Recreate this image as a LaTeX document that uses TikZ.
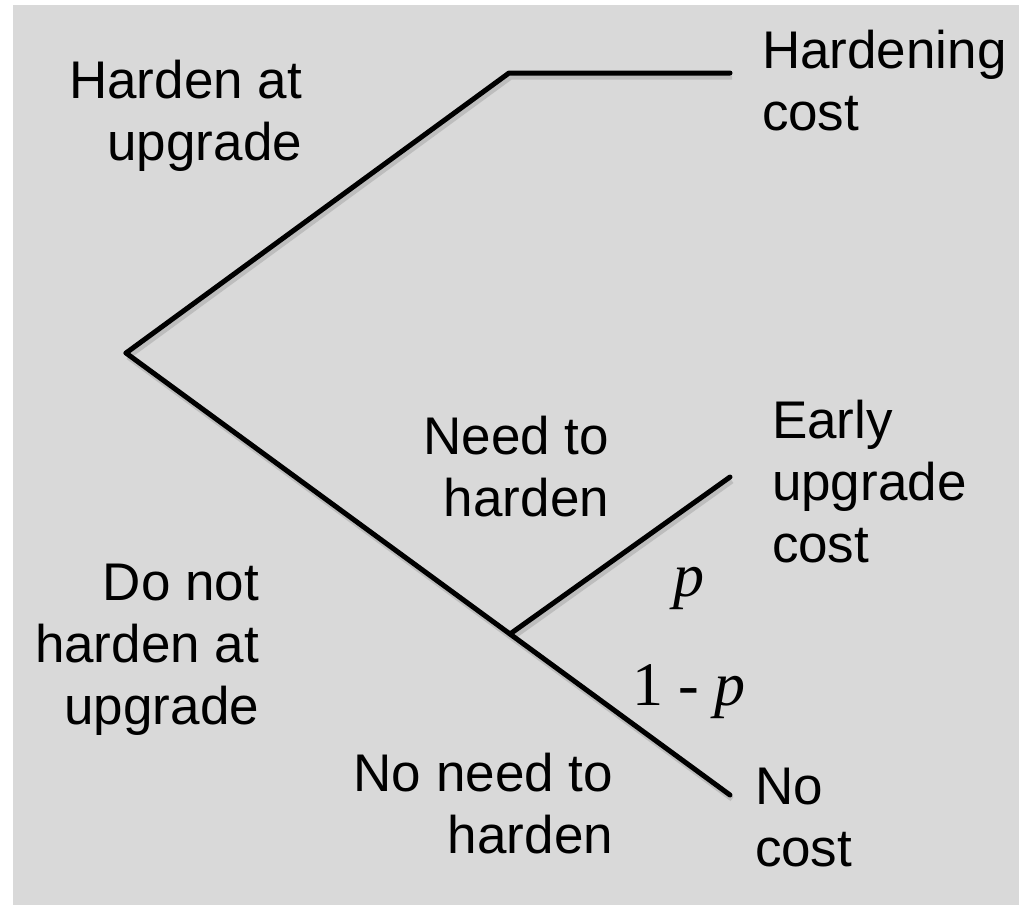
\documentclass[tikz,border=0pt]{standalone}
\usepackage{fontspec}
\setmainfont{Liberation Sans}
\newfontfamily\mathserif{Liberation Serif}
\definecolor{bggray}{HTML}{D9D9D9}
\definecolor{shadowgray}{HTML}{BDBDBD}
\begin{document}
\begin{tikzpicture}[x=1pt,y=-1pt,
  lbl/.style={inner sep=0pt, outer sep=0pt, font=\fontsize{53}{62}\selectfont},
  lblr/.style={lbl, align=right},
  lbll/.style={lbl, align=left},
  prob/.style={inner sep=0pt, outer sep=0pt, font=\fontsize{62}{70}\mathserif},
  branch/.style={line width=5pt, line cap=round, line join=round, black},
  shade/.style={line width=5pt, line join=round, shadowgray}]
\useasboundingbox (0,0) rectangle (1019,906);
\fill[white] (0,0) rectangle (1019,906);
\fill[bggray] (13,5) rectangle (1019,905);
% tree points
\coordinate (root) at (126,353);
\coordinate (up) at (509,73);
\coordinate (upend) at (730,73);
\coordinate (chance) at (510,634);
\coordinate (early) at (730,477);
\coordinate (nocost) at (730,795);
% shadows
\draw[shade] ([shift={(2,4)}]root) -- ([shift={(2,4)}]up) -- ([shift={(2,4)}]upend);
\draw[shade] ([shift={(2,4)}]root) -- ([shift={(2,4)}]nocost);
\draw[shade] ([shift={(2,4)}]chance) -- ([shift={(2,4)}]early);
% branches
\draw[branch] (root) -- (up) -- (upend);
\draw[branch] (root) -- (chance) -- (nocost);
\draw[branch] (chance) -- (early);
% labels (base anchor = baseline of last line)
\node[lblr, anchor=base east] (hau) at (302,160) {Harden at\\upgrade};
\node[lbll, anchor=base west] (hc) at (762,130) {Hardening\\cost};
\node[lblr, anchor=base east] (nth) at (609,516) {Need to\\harden};
\node[lbll, anchor=base west] (euc) at (772,562) {Early\\upgrade\\cost};
\node[lblr, anchor=base east] (dnh) at (259,724) {Do not\\harden at\\upgrade};
\node[lblr, anchor=base east] (nnh) at (613,853) {No need to\\harden};
\node[lbll, anchor=base west] (nc) at (755,866) {No\\cost};
\node[prob, anchor=base west] (pp) at (673,596) {\itshape p};
\node[prob, anchor=base west] (qq) at (632,705) {1 - \itshape p};
\end{tikzpicture}
\end{document}
